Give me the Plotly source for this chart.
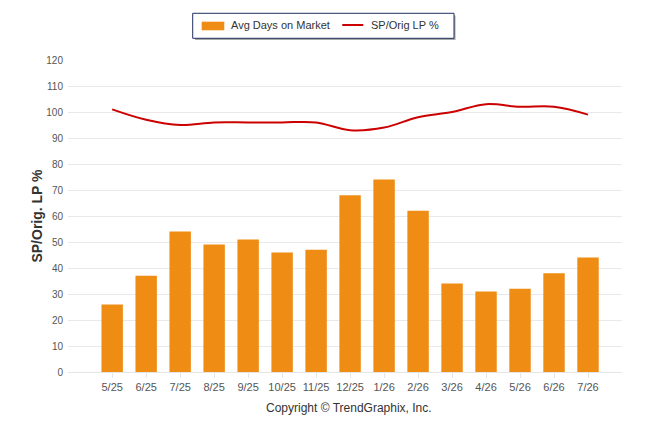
import plotly.graph_objects as go

# Monthly market data
months = ['5/25', '6/25', '7/25', '8/25', '9/25', '10/25', '11/25', '12/25',
          '1/26', '2/26', '3/26', '4/26', '5/26', '6/26', '7/26']
avg_days = [26, 37, 54, 49, 51, 46, 47, 68, 74, 62, 34, 31, 32, 38, 44]
sp_orig_lp = [101, 97, 95, 96, 96, 96, 96, 93, 94, 98, 100, 103, 102, 102, 99]

BAR_COLOR = '#EF8C13'
LINE_COLOR = '#CC0000'

fig = go.Figure()

fig.add_trace(go.Bar(
    name='Avg Days on Market',
    x=months,
    y=avg_days,
    marker=dict(color=BAR_COLOR, line=dict(width=0)),
    width=0.63,
))

fig.add_trace(go.Scatter(
    name='SP/Orig LP %',
    x=months,
    y=sp_orig_lp,
    mode='lines',
    line=dict(color=LINE_COLOR, width=2, shape='spline', smoothing=1.0),
))

# hand-drawn legend box (plotly's own legend pushes the top margin)
legend_shapes = [
    # shadow
    dict(type='rect', x0=0.2292, x1=0.6995, y0=1.0641, y1=1.1426,
         fillcolor='#a8a8a8', line=dict(width=0)),
    # box
    dict(type='rect', x0=0.2251, x1=0.6968, y0=1.0696, y1=1.1497,
         fillcolor='white', line=dict(color='#1F2F5C', width=1)),
    # bar swatch
    dict(type='rect', x0=0.2413, x1=0.2821, y0=1.0952, y1=1.1228,
         fillcolor=BAR_COLOR, line=dict(width=0)),
    # line swatch
    dict(type='line', x0=0.4951, x1=0.5330, y0=1.1122, y1=1.1122,
         line=dict(color=LINE_COLOR, width=2)),
]
for s in legend_shapes:
    fig.add_shape(xref='paper', yref='paper', **s)

for txt, xpos in [('Avg Days on Market', 0.2906), ('SP/Orig LP %', 0.5433)]:
    fig.add_annotation(
        text=txt, xref='paper', yref='paper', x=xpos, y=1.111,
        xanchor='left', yanchor='middle', showarrow=False,
        font=dict(size=11, color='#333333'),
    )

fig.add_annotation(
    text='Copyright © TrendGraphix, Inc.',
    xref='paper', yref='paper', x=0.508, y=-0.115,
    xanchor='center', yanchor='middle', showarrow=False,
    font=dict(size=12, color='#333333'),
)

# page body has an 8px margin, so the figure is a bit smaller than the window
fig.update_layout(
    width=638,
    height=426,
    margin=dict(l=60, r=24, t=52, b=62),
    paper_bgcolor='white',
    plot_bgcolor='white',
    font=dict(family='Liberation Sans', color='#444444'),
    showlegend=False,
    xaxis=dict(
        type='category',
        range=[-1.3, 15],
        showgrid=False,
        showline=True,
        linecolor='#e6e6e6',
        linewidth=1,
        ticks='outside',
        ticklen=5,
        tickcolor='#e6e6e6',
        tickfont=dict(size=11, color='#555555'),
    ),
    yaxis=dict(
        range=[0, 120],
        dtick=10,
        showgrid=True,
        gridcolor='#e9e9e9',
        gridwidth=1,
        zeroline=False,
        showline=False,
        tickfont=dict(size=10, color='#555555'),
        ticklabelstandoff=4,
        title=dict(text='<b>SP/Orig. LP %</b>', font=dict(size=14, color='#333333'), standoff=0),
    ),
)

fig.write_html("out.html")
